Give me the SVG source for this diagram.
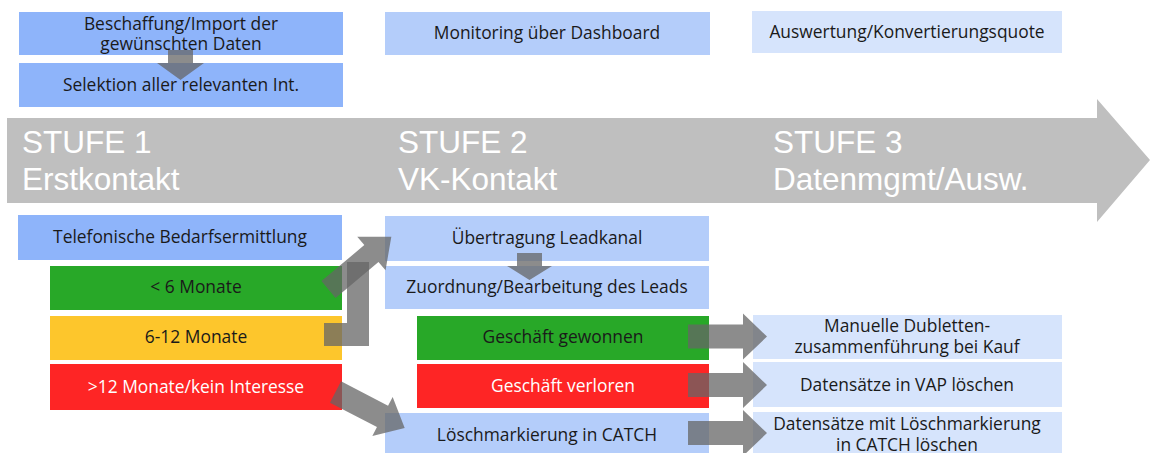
<svg xmlns="http://www.w3.org/2000/svg" width="1150" height="453" viewBox="0 0 1150 453">
  <style>
    .lbl { font-family: "Open Sans", "Noto Sans", "DejaVu Sans", sans-serif; font-size: 17.4px; fill: #1a1a1a; text-anchor: middle; }
    .lbl.inv { fill: #ffffff; }
    .stage { font-family: "Liberation Sans", Arial, sans-serif; font-size: 31.5px; fill: #ffffff; }
    .b1 { fill: #8eb4fa; }
    .b2 { fill: #b4cdfa; }
    .b3 { fill: #d6e4fc; }
    .green { fill: #28a828; }
    .yellow { fill: #fdc62c; }
    .red { fill: #fe2525; }
    .flow { fill: #666666; fill-opacity: 0.75; }
  </style>
  <defs>
    <!-- block arrow pointing right, origin at the tail centre -->
    <path id="rarrow" d="M0,-12 H55 V-23 L79,0 L55,23 V12 H0 Z"/>
  </defs>

  <rect width="1150" height="453" fill="#ffffff"/>

  <!-- timeline -->
  <g id="timeline">
    <path d="M7,118 H1097 V99 L1150,160 L1097,222 V203 H7 Z" fill="#bfbfbf"/>
    <text class="stage" x="22" y="153">STUFE 1</text>
    <text class="stage" x="22" y="190">Erstkontakt</text>
    <text class="stage" x="398" y="153">STUFE 2</text>
    <text class="stage" x="398" y="190">VK-Kontakt</text>
    <text class="stage" x="773" y="153">STUFE 3</text>
    <text class="stage" x="773" y="190">Datenmgmt/Ausw.</text>
  </g>

  <!-- stage 1, upper -->
  <g id="beschaffung">
    <rect class="b1" x="19" y="12" width="324" height="43"/>
    <text class="lbl" x="181" y="30">Beschaffung/Import der</text>
    <text class="lbl" x="181" y="50">gewünschten Daten</text>
  </g>
  <g id="selektion">
    <rect class="b1" x="19" y="63" width="324" height="44"/>
    <text class="lbl" x="181" y="91">Selektion aller relevanten Int.</text>
  </g>

  <!-- stage 2 / 3, upper -->
  <g id="monitoring">
    <rect class="b2" x="385" y="12" width="325" height="43"/>
    <text class="lbl" x="547" y="39">Monitoring über Dashboard</text>
  </g>
  <g id="auswertung">
    <rect class="b3" x="752" y="11" width="310" height="42"/>
    <text class="lbl" x="907" y="38">Auswertung/Konvertierungsquote</text>
  </g>

  <!-- stage 1, lower -->
  <g id="bedarfsermittlung">
    <rect class="b1" x="18" y="215" width="324" height="45"/>
    <text class="lbl" x="180" y="243">Telefonische Bedarfsermittlung</text>
  </g>
  <g id="unter6">
    <rect class="green" x="50" y="266" width="292" height="44"/>
    <text class="lbl" x="196" y="293">&lt; 6 Monate</text>
  </g>
  <g id="monate6bis12">
    <rect class="yellow" x="50" y="316" width="292" height="44"/>
    <text class="lbl" x="196" y="343">6-12 Monate</text>
  </g>
  <g id="ueber12">
    <rect class="red" x="50" y="364" width="292" height="46"/>
    <text class="lbl inv" x="196" y="393">&gt;12 Monate/kein Interesse</text>
  </g>

  <!-- stage 2, lower -->
  <g id="leadkanal">
    <rect class="b2" x="385" y="216" width="324" height="45"/>
    <text class="lbl" x="547" y="244">Übertragung Leadkanal</text>
  </g>
  <g id="zuordnung">
    <rect class="b2" x="385" y="266" width="324" height="43"/>
    <text class="lbl" x="547" y="293">Zuordnung/Bearbeitung des Leads</text>
  </g>
  <g id="gewonnen">
    <rect class="green" x="417" y="316" width="292" height="44"/>
    <text class="lbl" x="563" y="343">Geschäft gewonnen</text>
  </g>
  <g id="verloren">
    <rect class="red" x="417" y="364" width="292" height="44"/>
    <text class="lbl inv" x="563" y="392">Geschäft verloren</text>
  </g>
  <g id="loeschmarkierung">
    <rect class="b2" x="385" y="413" width="324" height="45"/>
    <text class="lbl" x="547" y="441">Löschmarkierung in CATCH</text>
  </g>

  <!-- stage 3, lower -->
  <g id="dubletten">
    <rect class="b3" x="753" y="315" width="309" height="44"/>
    <text class="lbl" x="907" y="332">Manuelle Dubletten-</text>
    <text class="lbl" x="907" y="353">zusammenführung bei Kauf</text>
  </g>
  <g id="vap">
    <rect class="b3" x="753" y="362" width="309" height="45"/>
    <text class="lbl" x="907" y="391">Datensätze in VAP löschen</text>
  </g>
  <g id="catch">
    <rect class="b3" x="753" y="412" width="309" height="46"/>
    <text class="lbl" x="907" y="430">Datensätze mit Löschmarkierung</text>
    <text class="lbl" x="907" y="451">in CATCH löschen</text>
  </g>

  <!-- connectors -->
  <g id="connectors">
    <path class="flow" d="M168,50 H193 V63 H204 L180.5,80 L157,63 H168 Z"/>
    <path class="flow" d="M517,253 H542 V266 H552 L529.5,280 L507,266 H517 Z"/>
    <path class="flow" d="M324,323 H347 V262 H369 V346 H324 Z"/>
    <path class="flow" transform="translate(328.5,289.5) rotate(-40)" d="M0,-11 H56 V-22 L82,0 L56,22 V11 H0 Z"/>
    <path class="flow" transform="translate(335.5,392) rotate(27.5)" d="M0,-12 H53 V-22 L78,0 L53,22 V12 H0 Z"/>
    <use class="flow" href="#rarrow" x="688" y="336.5"/>
    <use class="flow" href="#rarrow" x="688" y="385"/>
    <use class="flow" href="#rarrow" x="688" y="433"/>
  </g>
</svg>
